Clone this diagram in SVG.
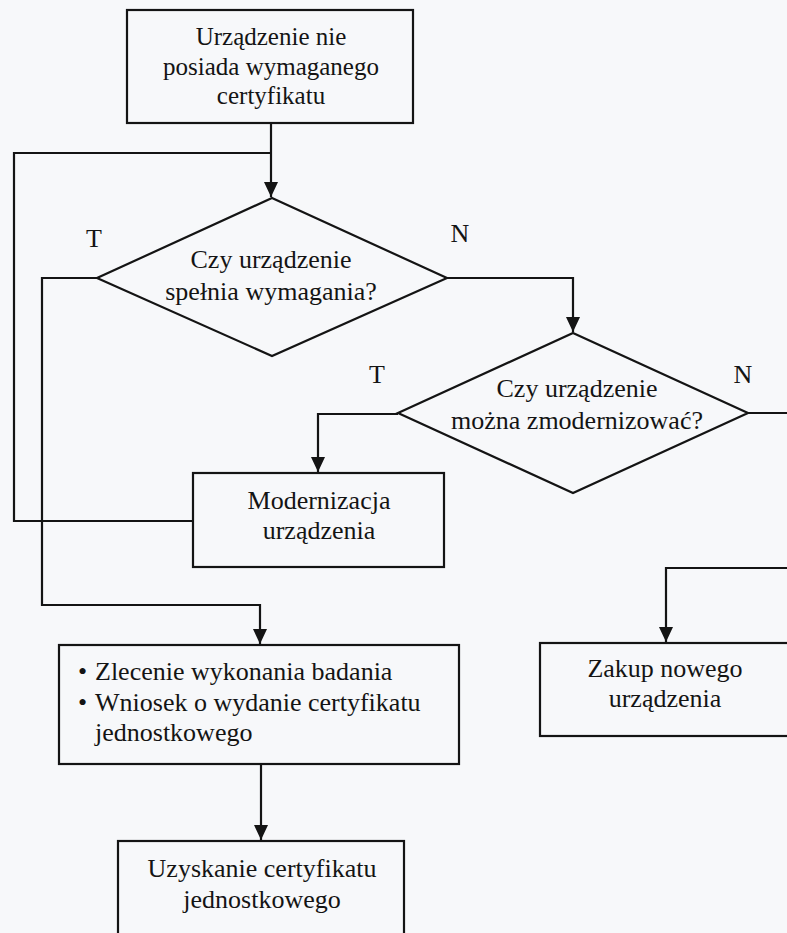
<svg xmlns="http://www.w3.org/2000/svg" width="787" height="933" viewBox="0 0 787 933">
<defs>
<style>
.box{fill:none;stroke:#141414;stroke-width:2.2}
.ln{fill:none;stroke:#141414;stroke-width:2.2}
.t{font-family:"Liberation Serif","Times New Roman",serif;font-size:26px;fill:#141414;text-anchor:middle}
.s{font-size:25px}
.l{font-family:"Liberation Serif","Times New Roman",serif;font-size:26px;fill:#141414}
</style>
<marker id="ad" markerUnits="userSpaceOnUse" markerWidth="16" markerHeight="14" refX="15" refY="7" orient="auto" viewBox="0 0 16 14">
<path d="M0,0 L15,7 L0,14 Z" fill="#141414"/>
</marker>
</defs>
<rect width="787" height="933" fill="#f7f8fa"/>
<g id="connectors">
<path class="ln" d="M271,123 V197" marker-end="url(#ad)"/>
<path class="ln" d="M193,521 H14 V153 H271"/>
<path class="ln" d="M97,278 H42 V605 H260 V644" marker-end="url(#ad)"/>
<path class="ln" d="M447,278 H573 V332" marker-end="url(#ad)"/>
<path class="ln" d="M398,414 H318 V472" marker-end="url(#ad)"/>
<path class="ln" d="M748,413 H790"/>
<path class="ln" d="M790,568 H666 V642" marker-end="url(#ad)"/>
<path class="ln" d="M261,764 V840" marker-end="url(#ad)"/>
</g>
<g id="start">
<rect class="box" x="127" y="10" width="286" height="113"/>
<text class="t s" x="271" y="45">Urządzenie nie</text>
<text class="t s" x="271" y="75">posiada wymaganego</text>
<text class="t s" x="271" y="104">certyfikatu</text>
</g>
<g id="decision1">
<polygon class="box" points="272,198 447,278 272,356 97,278"/>
<text class="t" x="271" y="268">Czy urządzenie</text>
<text class="t" x="271" y="300">spełnia wymagania?</text>
<text class="t" x="94" y="247">T</text>
<text class="t" x="460" y="242">N</text>
</g>
<g id="decision2">
<polygon class="box" points="573,333 748,413 573,493 398,413"/>
<text class="t" x="577" y="397">Czy urządzenie</text>
<text class="t" x="577" y="429">można zmodernizować?</text>
<text class="t" x="377" y="383">T</text>
<text class="t" x="743" y="383">N</text>
</g>
<g id="modernizacja">
<rect class="box" x="193" y="473" width="251" height="94"/>
<text class="t" x="319" y="509">Modernizacja</text>
<text class="t" x="319" y="539">urządzenia</text>
</g>
<g id="badanie">
<rect class="box" x="59" y="645" width="400" height="119"/>
<text class="l" x="78" y="680">•</text>
<text class="l" x="95" y="680">Zlecenie wykonania badania</text>
<text class="l" x="78" y="711">•</text>
<text class="l" x="95" y="711">Wniosek o wydanie certyfikatu</text>
<text class="l" x="95" y="741">jednostkowego</text>
</g>
<g id="zakup">
<rect class="box" x="540" y="643" width="260" height="93"/>
<text class="t" x="665" y="677">Zakup nowego</text>
<text class="t" x="665" y="707">urządzenia</text>
</g>
<g id="uzyskanie">
<rect class="box" x="118" y="841" width="286" height="110"/>
<text class="t" x="262" y="877">Uzyskanie certyfikatu</text>
<text class="t" x="262" y="908">jednostkowego</text>
</g>
</svg>
